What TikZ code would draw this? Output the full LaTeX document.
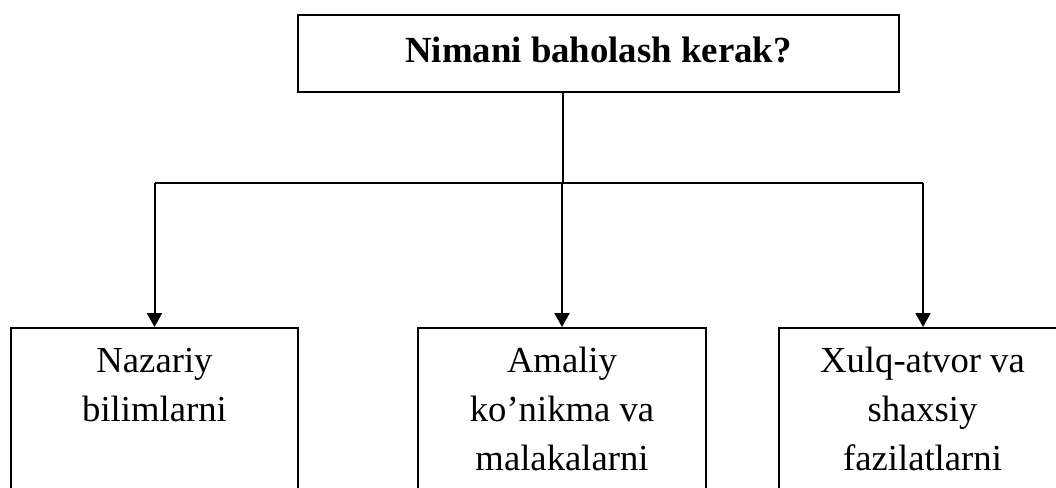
\documentclass[tikz,border=0pt]{standalone}
\usepackage{fontspec}
\setmainfont{Liberation Serif}
\usetikzlibrary{arrows.meta}
\begin{document}
\begin{tikzpicture}[x=0.75pt, y=-0.75pt,
  box/.style={draw, line width=1.4pt, inner sep=0pt},
  subbox/.style={box, minimum height=150pt, anchor=north},
  label/.style={anchor=north, align=center, inner sep=0pt,
    font={\fontsize{27.5pt}{36.75pt}\selectfont}},
  link/.style={line width=1.5pt},
  arrow/.style={link, -{Triangle[width=11.25pt, length=10.5pt]}}]
  \useasboundingbox (0,0) rectangle (1056,488);
  \clip (0,0) rectangle (1056,488);

  % question box
  \node[box, minimum width=450.75pt, minimum height=57.75pt, text depth=6pt,
        font={\fontsize{27.6pt}{33pt}\selectfont\bfseries}]
    (top) at (598.5,53.5) {Nimani baholash kerak?};

  % three answer boxes
  \node[subbox, minimum width=215.25pt] (b1) at (154.5,327) {};
  \node[subbox, minimum width=216pt]    (b2) at (562,327) {};
  \node[subbox, minimum width=216pt]    (b3) at (923,327) {};

  \node[label] (t1) at (154.5,337.7) {\strut Nazariy\\bilimlarni};
  \node[label] (t2) at (562,337.7) {\strut Amaliy\\ko’nikma va\\malakalarni};
  \node[label] (t3) at (922.5,337.7) {\strut Xulq-atvor va\\shaxsiy\\fazilatlarni};

  % branching connectors
  \coordinate (hub) at (562.5,183);
  \coordinate (jl) at (b1.north |- hub);
  \coordinate (jm) at (b2.north |- hub);
  \coordinate (jr) at (b3.north |- hub);

  \draw[link] (top.south -| hub) -- (hub);
  \draw[link] (jl) -- (jr);
  \draw[arrow] (jl) -- (b1.north);
  \draw[arrow] (jm) -- (b2.north);
  \draw[arrow] (jr) -- (b3.north);
\end{tikzpicture}
\end{document}
